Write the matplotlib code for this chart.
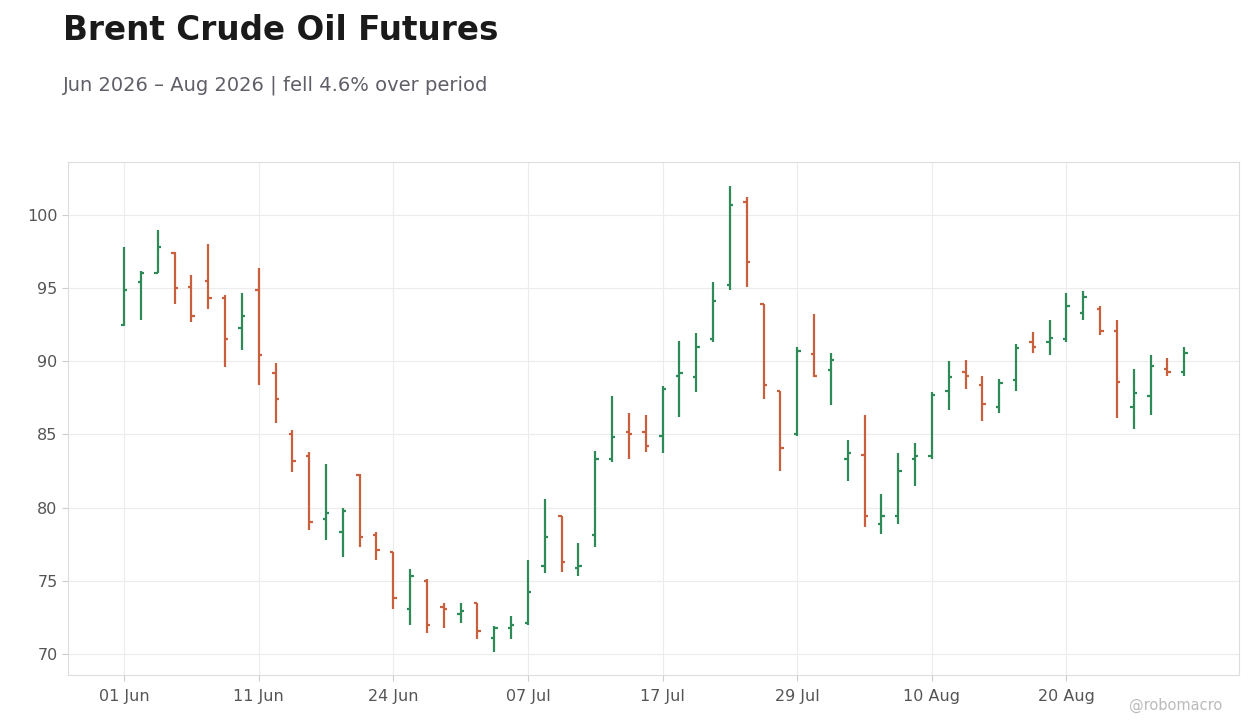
import numpy as np
import pandas as pd
import matplotlib
matplotlib.use('Agg')
import matplotlib.pyplot as plt

# trading days Jun-Aug 2026 (NYSE holidays removed)
holidays = ['2026-06-19', '2026-07-03']
dates = [d for d in pd.bdate_range('2026-06-01', '2026-08-31') if d.strftime('%Y-%m-%d') not in holidays]

opens = [92.5, 95.4, 96.0, 97.4, 95.1, 95.5, 94.3, 92.3, 94.9, 89.2,
         85.0, 83.5, 79.2, 78.3, 82.2, 78.1, 77.0, 73.1, 75.0, 73.2,
         72.7, 73.5, 71.1, 71.8, 72.1, 76.0, 79.4, 75.9, 78.1, 83.3,
         85.2, 85.2, 84.9, 89.0, 88.9, 91.5, 95.2, 100.9, 93.9, 88.0,
         85.0, 90.5, 89.4, 83.3, 83.6, 78.9, 79.4, 83.3, 83.5, 88.0,
         89.3, 88.4, 86.9, 88.7, 91.3, 91.3, 91.5, 93.3, 93.6, 92.1,
         86.9, 87.6, 89.5, 89.3]
highs = [97.8, 96.2, 99.0, 97.5, 95.9, 98.0, 94.5, 94.7, 96.4, 89.9,
         85.3, 83.8, 83.0, 80.0, 82.3, 78.3, 77.0, 75.8, 75.1, 73.5,
         73.5, 73.5, 71.9, 72.6, 76.4, 80.6, 79.4, 77.6, 83.9, 87.6,
         86.5, 86.3, 88.3, 91.4, 91.9, 95.4, 102.0, 101.2, 93.9, 88.0,
         91.0, 93.2, 90.6, 84.6, 86.3, 80.9, 83.7, 84.4, 87.9, 90.0,
         90.1, 89.0, 88.8, 91.2, 92.0, 92.8, 94.7, 94.8, 93.8, 92.8,
         89.5, 90.4, 90.2, 91.0]
lows = [92.4, 92.8, 96.0, 93.9, 92.7, 93.6, 89.6, 90.8, 88.4, 85.8,
        82.4, 78.5, 77.8, 76.6, 77.3, 76.4, 73.1, 72.0, 71.4, 71.8,
        72.1, 71.0, 70.1, 71.0, 72.0, 75.5, 75.6, 75.3, 77.3, 83.1,
        83.3, 83.8, 83.7, 86.2, 87.9, 91.3, 94.9, 95.1, 87.4, 82.5,
        84.9, 88.9, 87.0, 81.8, 78.7, 78.2, 78.9, 81.5, 83.3, 86.7,
        88.1, 85.9, 86.5, 88.0, 90.6, 90.4, 91.3, 92.8, 91.8, 86.1,
        85.4, 86.3, 89.0, 89.0]
closes = [94.9, 96.0, 97.8, 95.0, 93.1, 94.3, 91.5, 93.1, 90.4, 87.4,
          83.2, 79.0, 79.6, 79.8, 78.0, 77.1, 73.8, 75.3, 72.0, 73.1,
          72.9, 71.6, 71.8, 72.0, 74.2, 78.0, 76.3, 76.0, 83.3, 84.8,
          85.0, 84.2, 88.1, 89.2, 91.0, 94.1, 100.7, 96.8, 88.4, 84.1,
          90.7, 89.0, 90.1, 83.7, 79.4, 79.4, 82.5, 83.5, 87.7, 88.9,
          89.0, 87.1, 88.5, 90.9, 91.0, 91.6, 93.8, 94.4, 92.1, 88.6,
          87.8, 89.7, 89.3, 90.6]
tick_labels = ['01 Jun', '11 Jun', '24 Jun', '07 Jul', '17 Jul', '29 Jul', '10 Aug', '20 Aug']

UP, DOWN = '#2e8b57', '#c8603e'
fig = plt.figure(figsize=(12.6, 7.28), dpi=100)
ax = fig.add_axes([68 / 1260, 1 - 675 / 728, 1171 / 1260, 513 / 728])

x = np.arange(len(dates))
for i in x:
    c = UP if closes[i] >= opens[i] else DOWN
    ax.vlines(i, lows[i], highs[i], color=c, lw=1.6)
    ax.hlines(opens[i], i - 0.2, i, color=c, lw=1.6)
    ax.hlines(closes[i], i, i + 0.2, color=c, lw=1.6)

labels = [d.strftime('%d %b') for d in dates]
ticks = [labels.index(t) for t in tick_labels]
ax.set_xticks(ticks)
ax.set_xticklabels(tick_labels)
ax.set_xlim(-3.33, 66.25)
ax.set_ylim(68.56, 103.62)
ax.set_yticks([70, 75, 80, 85, 90, 95, 100])
ax.grid(True, color='#ececec', lw=0.8)
ax.set_axisbelow(True)
for s in ax.spines.values():
    s.set_color('#dddddd')
ax.tick_params(colors='#555555', labelsize=11.5, length=4)
ax.tick_params(axis='both', color='#cccccc')
ax.tick_params(axis='x', pad=6)

fig.text(63 / 1260, 1 - 30 / 728, 'Brent Crude Oil Futures', fontsize=23.5, fontweight='bold',
         color='#1a1a1a', va='center')
fig.text(63 / 1260, 1 - 85 / 728, 'Jun 2026 – Aug 2026 | fell 4.6% over period', fontsize=14,
         color='#5f5f68', va='center')
fig.text(1222 / 1260, 1 - 705 / 728, '@robomacro', fontsize=10.5, color='#bbbbbb', ha='right', va='center')

fig.savefig('out.png', dpi=100)
